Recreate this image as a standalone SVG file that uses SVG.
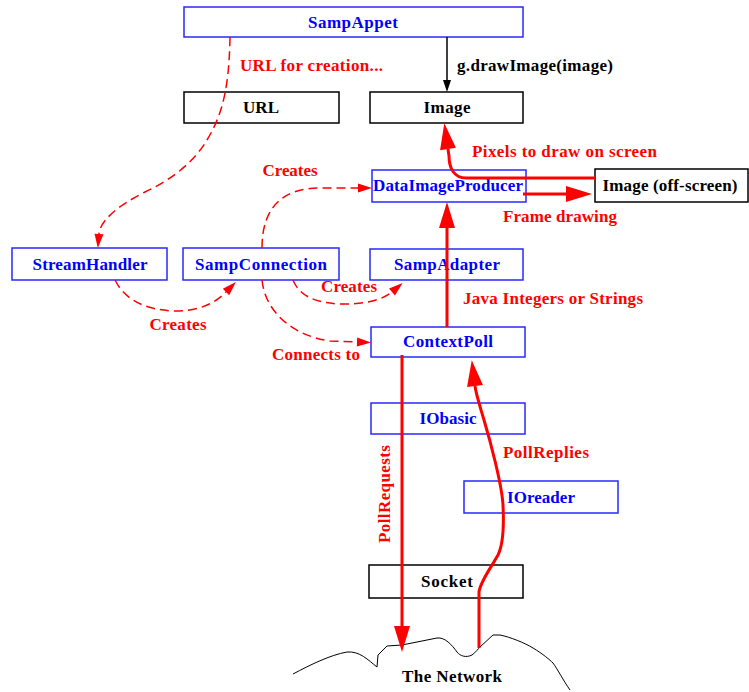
<svg xmlns="http://www.w3.org/2000/svg" width="749" height="692" viewBox="0 0 749 692">
  <style>
    .box-blue { fill: none; stroke: #2828ff; stroke-width: 1.5; }
    .box-black { fill: none; stroke: #000000; stroke-width: 1.5; }
    .t { font-family: "Liberation Serif", "Times New Roman", serif; font-size: 17px; font-weight: bold; }
    .t-blue { fill: #0000ff; text-anchor: middle; }
    .t-black { fill: #000000; text-anchor: middle; }
    .t-red { fill: #ff0000; }
    .dash { fill: none; stroke: #ff0000; stroke-width: 1.5; stroke-dasharray: 9 5; marker-end: url(#head-small); }
    .thick { fill: none; stroke: #ff0000; stroke-width: 3; marker-end: url(#head-big); }
    .plain { fill: none; stroke: #000000; stroke-width: 1.5; marker-end: url(#head-black); }
  </style>
  <defs>
    <marker id="head-small" markerUnits="userSpaceOnUse" orient="auto" refX="0" refY="0" markerWidth="20" markerHeight="12" overflow="visible">
      <path d="M0,-4.5 L14,0 L0,4.5 z" fill="#ff0000"/>
    </marker>
    <marker id="head-big" markerUnits="userSpaceOnUse" orient="auto" refX="0" refY="0" markerWidth="30" markerHeight="20" overflow="visible">
      <path d="M0,-8 L26,0 L0,8 z" fill="#ff0000"/>
    </marker>
    <marker id="head-black" markerUnits="userSpaceOnUse" orient="auto" refX="0" refY="0" markerWidth="14" markerHeight="10" overflow="visible">
      <path d="M0,-4 L12,0 L0,4 z" fill="#000000"/>
    </marker>
  </defs>

  <!-- network cloud outline -->
  <g id="network">
    <path d="M293,674 C310,665 330,655 347,652 C360,651 368,660 377,667 L378,655 L387,646 L402,645 L437,638 C445,637 452,645 457,652 C460,656 466,658 472,655 C476,652 478,649 480,647 L493,635 L500,635 C510,637 525,643 533,648 C543,654 550,660 553,663 C558,670 563,680 570,690" fill="none" stroke="#000000" stroke-width="1"/>
    <text class="t t-black" x="452" y="682" textLength="100">The Network</text>
  </g>

  <!-- nodes -->
  <g id="SampAppet">
    <rect class="box-blue" x="184" y="7" width="339" height="30"/>
    <text class="t t-blue" x="353" y="28" textLength="90">SampAppet</text>
  </g>
  <g id="URL">
    <rect class="box-black" x="184" y="92" width="155" height="31"/>
    <text class="t t-black" x="261" y="113" textLength="36">URL</text>
  </g>
  <g id="Image">
    <rect class="box-black" x="370" y="92" width="153" height="31"/>
    <text class="t t-black" x="447" y="113" textLength="47">Image</text>
  </g>
  <g id="DataImageProducer">
    <rect class="box-blue" x="372" y="170" width="154" height="32"/>
    <text class="t t-blue" x="448" y="191" textLength="150">DataImageProducer</text>
  </g>
  <g id="ImageOffscreen">
    <rect class="box-black" x="595" y="169" width="153" height="33"/>
    <text class="t t-black" x="670" y="191" textLength="135">Image (off-screen)</text>
  </g>
  <g id="StreamHandler">
    <rect class="box-blue" x="12" y="248" width="155" height="32"/>
    <text class="t t-blue" x="90" y="270" textLength="115">StreamHandler</text>
  </g>
  <g id="SampConnection">
    <rect class="box-blue" x="183" y="248" width="156" height="32"/>
    <text class="t t-blue" x="261" y="270" textLength="132">SampConnection</text>
  </g>
  <g id="SampAdapter">
    <rect class="box-blue" x="370" y="249" width="153" height="31"/>
    <text class="t t-blue" x="447" y="270" textLength="106">SampAdapter</text>
  </g>
  <g id="ContextPoll">
    <rect class="box-blue" x="371" y="327" width="154" height="30"/>
    <text class="t t-blue" x="448" y="347" textLength="90">ContextPoll</text>
  </g>
  <g id="IObasic">
    <rect class="box-blue" x="371" y="403" width="154" height="31"/>
    <text class="t t-blue" x="448" y="424" textLength="57">IObasic</text>
  </g>
  <g id="IOreader">
    <rect class="box-blue" x="464" y="481" width="154" height="32"/>
    <text class="t t-blue" x="541" y="503" textLength="68">IOreader</text>
  </g>
  <g id="Socket">
    <rect class="box-black" x="369" y="565" width="154" height="33"/>
    <text class="t t-black" x="447" y="587" textLength="52">Socket</text>
  </g>

  <!-- connectors, drawn over the boxes they cross -->
  <g id="connectors">
    <path class="plain" d="M447,37 L447,80"/>
    <path class="dash" d="M230,37 C229,90 222,115 207,140 C195,160 175,178 145,192 C115,207 100,222 99,234"/>
    <path class="dash" d="M262,248 C262,205 285,188 320,188 L358,188"/>
    <path class="dash" d="M115,280 C125,300 145,310 175,311 C200,311 215,303 226,292"/>
    <path class="dash" d="M293,280 C300,298 320,304 345,304 C370,304 385,298 392,292"/>
    <path class="dash" d="M262,280 C265,310 290,335 330,341 L357,342"/>
    <path class="thick" d="M447,327 L447,228"/>
    <path class="thick" d="M523,194 L566,194"/>
    <path class="thick" d="M596,178 L466,178 C454,178 449,168 449,156 L448,149"/>
    <path class="thick" d="M402,355 L402,626"/>
    <path class="thick" d="M479,648 L479,592 C480,582 492,566 498,555 C503,545 504,525 503,505 C502,485 490,440 484,420 C479,403 476,394 475,386"/>

    <text class="t t-black" x="457" y="71" style="text-anchor:start" textLength="156">g.drawImage(image)</text>
    <text class="t t-red" x="240" y="71" textLength="143">URL for creation...</text>
    <text class="t t-red" x="290" y="176" text-anchor="middle" textLength="55">Creates</text>
    <text class="t t-red" x="178" y="330" text-anchor="middle" textLength="57">Creates</text>
    <text class="t t-red" x="349" y="292" text-anchor="middle" textLength="56">Creates</text>
    <text class="t t-red" x="316" y="360" text-anchor="middle" textLength="88">Connects to</text>
    <text class="t t-red" x="472" y="157" textLength="185">Pixels to draw on screen</text>
    <text class="t t-red" x="503" y="222" textLength="114">Frame drawing</text>
    <text class="t t-red" x="463" y="304" textLength="180">Java Integers or Strings</text>
    <text class="t t-red" x="503" y="458" textLength="86">PollReplies</text>
    <text class="t t-red" transform="translate(390,494) rotate(-90)" text-anchor="middle" textLength="98">PollRequests</text>
  </g>
</svg>
